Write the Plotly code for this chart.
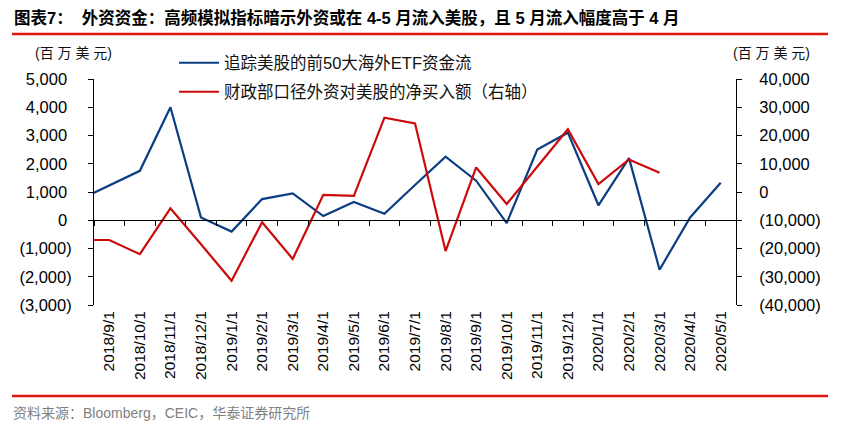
import plotly.graph_objects as go

# ---------------- data ----------------
prior_month = "2018/8/1"   # previous month, lies just outside the visible axis range
months = ["2018/9/1", "2018/10/1", "2018/11/1", "2018/12/1", "2019/1/1", "2019/2/1",
          "2019/3/1", "2019/4/1", "2019/5/1", "2019/6/1", "2019/7/1", "2019/8/1",
          "2019/9/1", "2019/10/1", "2019/11/1", "2019/12/1", "2020/1/1", "2020/2/1",
          "2020/3/1", "2020/4/1", "2020/5/1"]
# top-50 overseas ETFs tracking US equities, fund flow (USD mn, left axis)
etf_flow = [710, 1220, 1750, 4000, 100, -400, 750, 950, 150, 650, 230, 1250, 2250,
            1400, -100, 2500, 3100, 530, 2200, -1750, 100, 1330]
# US Treasury (TIC) foreign net purchases of US equities (USD mn, right axis)
tic_net_buy = [-17000, -17000, -22000, -5800, -18500, -31400, -10700, -23700, -1000,
               -1400, 26300, 24300, -20900, 8700, -4250, 8800, 22200, 2800, 11500,
               6800, None, None]

left_tickvals = [-3000, -2000, -1000, 0, 1000, 2000, 3000, 4000, 5000]
left_ticktext = ["(3,000)", "(2,000)", "(1,000)", "0\u00a0", "1,000\u00a0", "2,000\u00a0",
                 "3,000\u00a0", "4,000\u00a0", "5,000\u00a0"]
right_tickvals = [-40000, -30000, -20000, -10000, 0, 10000, 20000, 30000, 40000]
right_ticktext = ["(40,000)", "(30,000)", "(20,000)", "(10,000)", "0", "10,000",
                  "20,000", "30,000", "40,000"]

name_etf = "追踪美股的前50大海外ETF资金流"
name_tic = "财政部口径外资对美股的净买入额（右轴）"
title_text = "图表7：  外资资金：高频模拟指标暗示外资或在 4-5 月流入美股，且 5 月流入幅度高于 4 月"
unit_text = "(百 万 美 元)"
source_text = "资料来源：Bloomberg，CEIC，华泰证券研究所"

categories = [prior_month] + months

# ---------------- layout helpers ----------------
# the page body has an 8px margin, so the figure is drawn 8px smaller and
# screen positions are converted into figure positions
OFF = 8
SW, SH = 862, 438
W, H = SW - OFF, SH - OFF
L, R, T, B = 94 - OFF, 736 - OFF, 79 - OFF, 305 - OFF


def px_x(x):
    return (x - OFF - L) / (R - L)


def px_y(y):
    return (B - (y - OFF)) / (B - T)


FONT = "Liberation Sans, Arial, Noto Sans CJK SC, sans-serif"
BLUE = "#0b3d82"
RED = "#cc0a0a"
RULE = "#e3170d"

fig = go.Figure()
fig.add_trace(go.Scatter(x=categories, y=etf_flow, name=name_etf, mode="lines",
                         line=dict(color=BLUE, width=2.2), xaxis="x", yaxis="y",
                         legend="legend"))
fig.add_trace(go.Scatter(x=categories, y=tic_net_buy, name=name_tic, mode="lines",
                         line=dict(color=RED, width=2.2), xaxis="x", yaxis="y2",
                         legend="legend2"))
# carrier for the category axis that draws the zero line with its boundary ticks
fig.add_trace(go.Scatter(x=categories, y=[None] * len(categories), mode="lines",
                         xaxis="x2", yaxis="y", showlegend=False, hoverinfo="skip"))

xrange = [0.5, len(categories) - 0.5]
fig.update_layout(
    width=W, height=H,
    margin=dict(l=L, r=W - R, t=T, b=H - B, pad=0, autoexpand=False),
    paper_bgcolor="white", plot_bgcolor="rgba(0,0,0,0)",
    font=dict(family=FONT, size=15, color="#000"),
    xaxis=dict(type="category", categoryorder="array", categoryarray=categories,
               range=xrange, showline=False, ticks="", showgrid=False, zeroline=False,
               tickangle=-90, tickfont=dict(size=15.5, family=FONT, color="#000"),
               anchor="y", ticklabelstandoff=2),
    xaxis2=dict(type="category", categoryorder="array", categoryarray=categories,
                range=xrange, overlaying="x", anchor="free", position=px_y(220),
                showline=True, linecolor="#000", linewidth=1, ticks="outside",
                ticklen=5, tickwidth=1, tickcolor="#000", tickson="boundaries",
                showticklabels=False, showgrid=False, zeroline=False),
    yaxis=dict(range=[-3000, 5000], tickvals=left_tickvals, ticktext=left_ticktext,
               showline=True, linecolor="#000", linewidth=1, ticks="outside",
               ticklen=5, tickcolor="#000", showgrid=False, zeroline=False,
               tickfont=dict(size=16.5, family=FONT, color="#000"),
               anchor="x", ticklabelstandoff=13),
    yaxis2=dict(range=[-40000, 40000], tickvals=right_tickvals, ticktext=right_ticktext,
                overlaying="y", side="right", anchor="x",
                showline=True, linecolor="#000", linewidth=1, ticks="outside",
                ticklen=5, tickcolor="#000", showgrid=False, zeroline=False,
                tickfont=dict(size=16.5, family=FONT, color="#000"),
                ticklabelstandoff=14),
    legend=dict(x=px_x(174), y=px_y(63), xanchor="left", yanchor="middle",
                bgcolor="rgba(0,0,0,0)", borderwidth=0,
                font=dict(size=16.5, family=FONT, color="#111"), itemwidth=40),
    legend2=dict(x=px_x(174), y=px_y(92), xanchor="left", yanchor="middle",
                 bgcolor="rgba(0,0,0,0)", borderwidth=0,
                 font=dict(size=16.5, family=FONT, color="#111"), itemwidth=40),
    showlegend=True,
)

# title, unit labels and source
fig.add_annotation(text=title_text, xref="paper", yref="paper", x=px_x(12), y=px_y(18),
                   xanchor="left", yanchor="middle", showarrow=False,
                   font=dict(size=16.5, family=FONT, color="#000", weight="bold"))
fig.add_annotation(text=unit_text, xref="paper", yref="paper", x=px_x(73), y=px_y(53),
                   xanchor="center", yanchor="middle", showarrow=False,
                   font=dict(size=14, family=FONT, color="#111"))
fig.add_annotation(text=unit_text, xref="paper", yref="paper", x=px_x(771), y=px_y(53),
                   xanchor="center", yanchor="middle", showarrow=False,
                   font=dict(size=14, family=FONT, color="#111"))
fig.add_annotation(text=source_text, xref="paper", yref="paper", x=px_x(11), y=px_y(413),
                   xanchor="left", yanchor="middle", showarrow=False,
                   font=dict(size=14, family=FONT, color="#7f7f7f"))

# red rules
for yy in (34, 396):
    fig.add_shape(type="line", xref="paper", yref="paper", x0=px_x(12), x1=px_x(828),
                  y0=px_y(yy), y1=px_y(yy), line=dict(color=RULE, width=2.5))

fig.write_html("out.html")
